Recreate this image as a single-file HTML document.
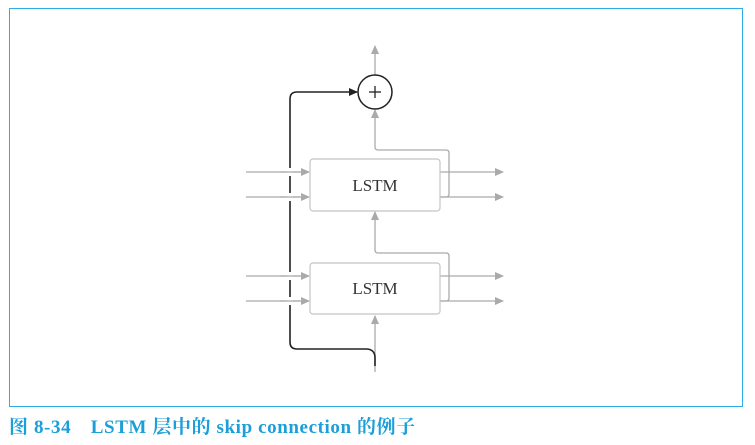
<!DOCTYPE html>
<html><head><meta charset="utf-8"><style>
body{margin:0;background:#fff;width:755px;height:445px;overflow:hidden;position:relative}
.cap{position:absolute;left:9px;top:412px;font-family:"Liberation Serif","Noto Serif CJK SC",serif;font-weight:bold;font-size:19px;letter-spacing:0.6px;color:#1a9fd9;white-space:nowrap}
</style></head><body>
<svg width="755" height="445" style="position:absolute;left:0;top:0">
<defs>
<marker id="g" markerWidth="9" markerHeight="9" refX="8" refY="4.5" orient="auto" markerUnits="userSpaceOnUse"><path d="M0,0.5 L9,4.5 L0,8.5z" fill="#aaa"/></marker>
<marker id="k" markerWidth="9" markerHeight="9" refX="8" refY="4.5" orient="auto" markerUnits="userSpaceOnUse"><path d="M0,0.5 L9,4.5 L0,8.5z" fill="#222"/></marker>
</defs>
<rect x="9.5" y="8.5" width="733" height="398" fill="none" stroke="#29aee6" stroke-width="1"/>
<g stroke="#aaa" stroke-width="1.3" fill="none">
<line x1="375" y1="75" x2="375" y2="46" marker-end="url(#g)"/>
<path d="M440,197 H446 Q449,197 449,194 V153 Q449,150 446,150 H378 Q375,150 375,147 V110" marker-end="url(#g)"/>
<path d="M440,301 H446 Q449,301 449,298 V256 Q449,253 446,253 H378 Q375,253 375,250 V212" marker-end="url(#g)"/>
<line x1="375" y1="372" x2="375" y2="316" marker-end="url(#g)"/>
<line x1="246" y1="172" x2="309" y2="172" marker-end="url(#g)"/>
<line x1="246" y1="197" x2="309" y2="197" marker-end="url(#g)"/>
<line x1="246" y1="276" x2="309" y2="276" marker-end="url(#g)"/>
<line x1="246" y1="301" x2="309" y2="301" marker-end="url(#g)"/>
<line x1="440" y1="172" x2="503" y2="172" marker-end="url(#g)"/>
<line x1="440" y1="197" x2="503" y2="197" marker-end="url(#g)"/>
<line x1="440" y1="276" x2="503" y2="276" marker-end="url(#g)"/>
<line x1="440" y1="301" x2="503" y2="301" marker-end="url(#g)"/>
</g>
<g stroke="#c4c4c4" stroke-width="1.2" fill="#fff">
<rect x="310" y="159" width="130" height="52" rx="3"/>
<rect x="310" y="263" width="130" height="51" rx="3"/>
</g>
<path d="M375,366 V358 Q375,349 366,349 H297 Q290,349 290,342 V99 Q290,92 297,92 H357" stroke="#222" stroke-width="1.6" fill="none" marker-end="url(#k)"/>
<g stroke="#fff" stroke-width="8">
<line x1="287" y1="172" x2="293" y2="172"/><line x1="287" y1="197" x2="293" y2="197"/>
<line x1="287" y1="276" x2="293" y2="276"/><line x1="287" y1="301" x2="293" y2="301"/>
</g>
<g stroke="#aaa" stroke-width="1.3">
<line x1="280" y1="172" x2="300" y2="172"/><line x1="280" y1="197" x2="300" y2="197"/>
<line x1="280" y1="276" x2="300" y2="276"/><line x1="280" y1="301" x2="300" y2="301"/>
</g>
<circle cx="375" cy="92" r="17" fill="#fff" stroke="#222" stroke-width="1.5"/>
<g stroke="#222" stroke-width="1.3"><line x1="369" y1="92" x2="381" y2="92"/><line x1="375" y1="86" x2="375" y2="98"/></g>
<g font-family="Liberation Serif,serif" font-size="17" fill="#333" text-anchor="middle">
<text x="375" y="191">LSTM</text><text x="375" y="294">LSTM</text>
</g>
</svg>
<div class="cap">图 8-34　LSTM 层中的 skip connection 的例子</div>
</body></html>
